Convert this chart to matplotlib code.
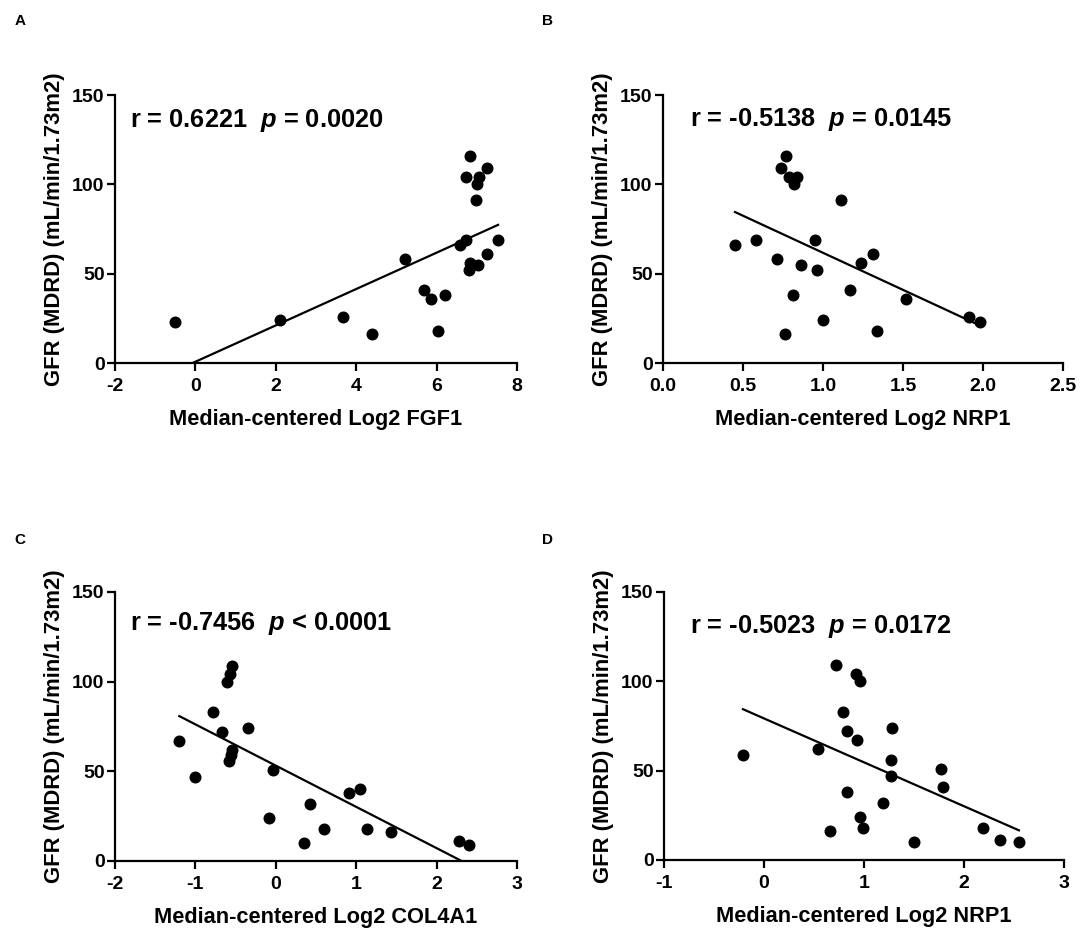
import numpy as np
import matplotlib
matplotlib.use('Agg')
from matplotlib import pyplot as plt

# fonts: Arial-like bold everywhere, italic bold p in the stats text
plt.rcParams['font.family'] = ['Liberation Sans', 'DejaVu Sans']
plt.rcParams['font.weight'] = 'bold'
plt.rcParams['mathtext.fontset'] = 'custom'
plt.rcParams['mathtext.bfit'] = 'Liberation Sans:bold:italic'
plt.rcParams['mathtext.it'] = 'Liberation Sans:bold:italic'
plt.rcParams['mathtext.rm'] = 'Liberation Sans:bold'

# cohort 1 (panels A and B)
gfr_1 = [23, 24, 26, 16, 58, 41, 36, 38, 18, 66, 69,
         116, 104, 104, 100, 91, 109, 56, 52, 55, 61, 69]
fgf1 = [-0.51, 2.11, 3.68, 4.39, 5.22, 5.69, 5.87, 6.22, 6.03, 6.59, 6.74,
        6.84, 6.74, 7.05, 7.00, 6.98, 7.25, 6.84, 6.81, 7.03, 7.25, 7.53]
gfr_1b = [66, 69, 58, 109, 116, 104, 104, 100, 38, 16, 55,
          69, 52, 24, 91, 41, 56, 61, 18, 36, 26, 23]
nrp1_1 = [0.45, 0.58, 0.71, 0.74, 0.77, 0.79, 0.84, 0.82, 0.81, 0.76, 0.86,
          0.95, 0.96, 1.00, 1.11, 1.17, 1.24, 1.31, 1.34, 1.52, 1.91, 1.98]

# cohort 2 (panels C and D)
gfr_2 = [67, 47, 83, 72, 109, 104, 100, 74, 56, 59, 62,
         51, 24, 10, 32, 18, 38, 40, 18, 16, 11, 9]
col4a1 = [-1.20, -1.01, -0.78, -0.67, -0.55, -0.57, -0.61, -0.34, -0.585, -0.56, -0.54,
          -0.04, -0.08, 0.35, 0.42, 0.60, 0.91, 1.05, 1.13, 1.43, 2.28, 2.40]
gfr_2b = [59, 62, 109, 83, 72, 67, 104, 100, 38, 16, 24,
          18, 32, 74, 56, 47, 51, 41, 10, 18, 11, 10]
nrp1_2 = [-0.21, 0.54, 0.72, 0.79, 0.83, 0.93, 0.92, 0.96, 0.83, 0.66, 0.96,
          0.99, 1.19, 1.28, 1.27, 1.27, 1.77, 1.79, 1.50, 2.19, 2.36, 2.55]

panels = [
    ('A', fgf1, gfr_1, 'Median-centered Log2 FGF1', (-2, 8), [-2, 0, 2, 4, 6, 8],
     ['-2', '0', '2', '4', '6', '8'], 'r = 0.6221  $\\mathbfit{p}$ = 0.0020'),
    ('B', nrp1_1, gfr_1b, 'Median-centered Log2 NRP1', (0, 2.5), [0, 0.5, 1.0, 1.5, 2.0, 2.5],
     ['0.0', '0.5', '1.0', '1.5', '2.0', '2.5'], 'r = -0.5138  $\\mathbfit{p}$ = 0.0145'),
    ('C', col4a1, gfr_2, 'Median-centered Log2 COL4A1', (-2, 3), [-2, -1, 0, 1, 2, 3],
     ['-2', '-1', '0', '1', '2', '3'], 'r = -0.7456  $\\mathbfit{p}$ < 0.0001'),
    ('D', nrp1_2, gfr_2b, 'Median-centered Log2 NRP1', (-1, 3), [-1, 0, 1, 2, 3],
     ['-1', '0', '1', '2', '3'], 'r = -0.5023  $\\mathbfit{p}$ = 0.0172'),
]

# axes rectangles in figure fractions
rects = [[0.1061, 0.6109, 0.3708, 0.2872],
         [0.6116, 0.6109, 0.3690, 0.2872],
         [0.1061, 0.0772, 0.3708, 0.2883],
         [0.6125, 0.0783, 0.3690, 0.2872]]
text_pos = [(0.037, 0.882), (0.0675, 0.886), (0.037, 0.859), (0.065, 0.847)]
letter_pos = [(0.0185, 0.978), (0.5055, 0.978), (0.0185, 0.421), (0.5055, 0.421)]

fig = plt.figure(figsize=(10.84, 9.33), dpi=100)

for i, (letter, x, y, xlabel, xlim, xticks, xticklabels, stat) in enumerate(panels):
    ax = fig.add_axes(rects[i])
    ax.scatter(x, y, s=58, color='black', zorder=3, clip_on=False)

    # linear regression line across the data range
    slope, intercept = np.polyfit(x, y, 1)
    xs = np.array([min(x), max(x)])
    ax.plot(xs, slope * xs + intercept, color='black', lw=1.6)

    ax.set_xlim(*xlim)
    ax.set_ylim(0, 150)
    ax.set_xticks(xticks)
    ax.set_xticklabels(xticklabels)
    ax.set_yticks([0, 50, 100, 150])
    ax.spines['top'].set_visible(False)
    ax.spines['right'].set_visible(False)
    for sp in ['left', 'bottom']:
        ax.spines[sp].set_linewidth(1.6)
    ax.tick_params(width=1.6, length=6, labelsize=14, pad=1.5)
    ax.tick_params(axis='x', pad=5)
    for lab in ax.get_xticklabels() + ax.get_yticklabels():
        lab.set_fontweight('bold')

    ax.set_xlabel(xlabel, fontsize=15.7, fontweight='bold')
    ax.set_ylabel('GFR (MDRD) (mL/min/1.73m2)', fontsize=15.8, fontweight='bold')
    ax.xaxis.set_label_coords(0.5, -0.172)
    ax.yaxis.set_label_coords(-0.125, 0.5)

    ax.text(text_pos[i][0], text_pos[i][1], stat, transform=ax.transAxes,
            fontsize=18.3, fontweight='bold', va='baseline', ha='left')
    fig.text(letter_pos[i][0], letter_pos[i][1], letter, fontsize=11,
             fontweight='bold', va='center', ha='center')

plt.savefig('out.png', dpi=100)
